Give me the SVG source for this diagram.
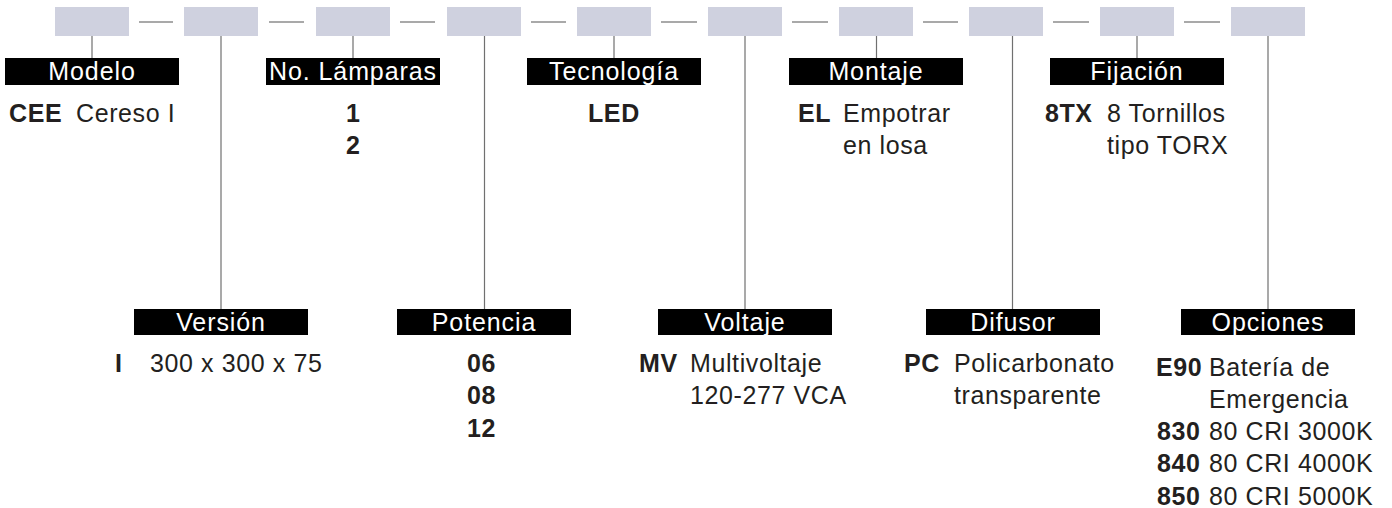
<svg xmlns="http://www.w3.org/2000/svg" width="1392" height="508" viewBox="0 0 1392 508">
<style>
.box{fill:#cfd1df}
.lbl{fill:#000}
.lt{font-family:"Liberation Sans",Arial,sans-serif;font-size:25px;fill:#fff;text-anchor:middle;letter-spacing:0.9px}
.t{font-family:"Liberation Sans",Arial,sans-serif;font-size:25px;fill:#231f20;letter-spacing:0.6px}
.b{font-weight:bold}
.dash{stroke:#555;stroke-width:1.2}
.vl{stroke:#707070;stroke-width:1.2}
</style>
<rect width="1392" height="508" fill="#fff"/>
<g id="connectors">
<line class="dash" x1="139" y1="22" x2="173" y2="22"/>
<line class="dash" x1="269" y1="22" x2="304" y2="22"/>
<line class="dash" x1="400" y1="22" x2="435" y2="22"/>
<line class="dash" x1="531" y1="22" x2="566" y2="22"/>
<line class="dash" x1="661" y1="22" x2="697" y2="22"/>
<line class="dash" x1="792" y1="22" x2="828" y2="22"/>
<line class="dash" x1="923" y1="22" x2="958" y2="22"/>
<line class="dash" x1="1053" y1="22" x2="1089" y2="22"/>
<line class="dash" x1="1184" y1="22" x2="1220" y2="22"/>
<line class="vl" x1="92" y1="36" x2="92" y2="58" stroke="#444"/>
<line class="vl" x1="221" y1="36" x2="221" y2="309" stroke="#555"/>
<line class="vl" x1="353" y1="36" x2="353" y2="58" stroke="#999"/>
<line class="vl" x1="484.5" y1="36" x2="484.5" y2="309" stroke="#666"/>
<line class="vl" x1="614" y1="36" x2="614" y2="58" stroke="#777"/>
<line class="vl" x1="745" y1="36" x2="745" y2="309" stroke="#888"/>
<line class="vl" x1="876.5" y1="36" x2="876.5" y2="58" stroke="#777"/>
<line class="vl" x1="1012.5" y1="36" x2="1012.5" y2="309" stroke="#444"/>
<line class="vl" x1="1137" y1="36" x2="1137" y2="58" stroke="#888"/>
<line class="vl" x1="1268" y1="36" x2="1268" y2="309" stroke="#888"/>
</g>
<g id="modelo">
<rect class="box" x="55" y="7" width="74" height="29"/>
<rect class="lbl" x="5" y="58" width="174" height="27"/>
<text class="lt" x="92" y="79.5">Modelo</text>
<text class="t" y="121.5"><tspan class="b" x="9">CEE</tspan><tspan x="76">Cereso I</tspan></text>
</g>
<g id="version">
<rect class="box" x="184" y="7" width="74" height="29"/>
<rect class="lbl" x="134" y="309" width="174" height="26"/>
<text class="lt" x="221" y="331">Versión</text>
<text class="t" y="372"><tspan class="b" x="115">I</tspan><tspan x="150">300 x 300 x 75</tspan></text>
</g>
<g id="lamparas">
<rect class="box" x="316" y="7" width="74" height="29"/>
<rect class="lbl" x="266" y="58" width="174" height="27"/>
<text class="lt" x="353" y="79.5">No. Lámparas</text>
<text class="t b" x="346" y="121.5">1</text>
<text class="t b" x="346" y="154">2</text>
</g>
<g id="potencia">
<rect class="box" x="447" y="7" width="74" height="29"/>
<rect class="lbl" x="397" y="309" width="174" height="26"/>
<text class="lt" x="484" y="331">Potencia</text>
<text class="t b" x="467" y="372">06</text>
<text class="t b" x="467" y="404.3">08</text>
<text class="t b" x="467" y="436.5">12</text>
</g>
<g id="tecnologia">
<rect class="box" x="577" y="7" width="74" height="29"/>
<rect class="lbl" x="527" y="58" width="174" height="27"/>
<text class="lt" x="614" y="79.5">Tecnología</text>
<text class="t b" x="588" y="121.5">LED</text>
</g>
<g id="voltaje">
<rect class="box" x="708" y="7" width="74" height="29"/>
<rect class="lbl" x="658" y="309" width="174" height="26"/>
<text class="lt" x="745" y="331">Voltaje</text>
<text class="t" y="372"><tspan class="b" x="639">MV</tspan><tspan x="690">Multivoltaje</tspan></text>
<text class="t" x="690" y="404.3">120-277 VCA</text>
</g>
<g id="montaje">
<rect class="box" x="839" y="7" width="74" height="29"/>
<rect class="lbl" x="789" y="58" width="174" height="27"/>
<text class="lt" x="876" y="79.5">Montaje</text>
<text class="t" y="121.5"><tspan class="b" x="798">EL</tspan><tspan x="843">Empotrar</tspan></text>
<text class="t" x="843" y="154">en losa</text>
</g>
<g id="difusor">
<rect class="box" x="969" y="7" width="74" height="29"/>
<rect class="lbl" x="926" y="309" width="174" height="26"/>
<text class="lt" x="1013" y="331">Difusor</text>
<text class="t" y="372"><tspan class="b" x="904">PC</tspan><tspan x="954">Policarbonato</tspan></text>
<text class="t" x="954" y="404.3">transparente</text>
</g>
<g id="fijacion">
<rect class="box" x="1100" y="7" width="74" height="29"/>
<rect class="lbl" x="1050" y="58" width="174" height="27"/>
<text class="lt" x="1137" y="79.5">Fijación</text>
<text class="t" y="121.5"><tspan class="b" x="1045">8TX</tspan><tspan x="1107">8 Tornillos</tspan></text>
<text class="t" x="1107" y="154">tipo TORX</text>
</g>
<g id="opciones">
<rect class="box" x="1231" y="7" width="74" height="29"/>
<rect class="lbl" x="1181" y="309" width="174" height="26"/>
<text class="lt" x="1268" y="331">Opciones</text>
<text class="t" y="375.5"><tspan class="b" x="1156">E90</tspan><tspan x="1209">Batería de</tspan></text>
<text class="t" x="1209" y="407.8">Emergencia</text>
<text class="t" y="440"><tspan class="b" x="1157">830</tspan><tspan x="1209">80 CRI 3000K</tspan></text>
<text class="t" y="472.3"><tspan class="b" x="1157">840</tspan><tspan x="1209">80 CRI 4000K</tspan></text>
<text class="t" y="504.5"><tspan class="b" x="1157">850</tspan><tspan x="1209">80 CRI 5000K</tspan></text>
</g>
</svg>
